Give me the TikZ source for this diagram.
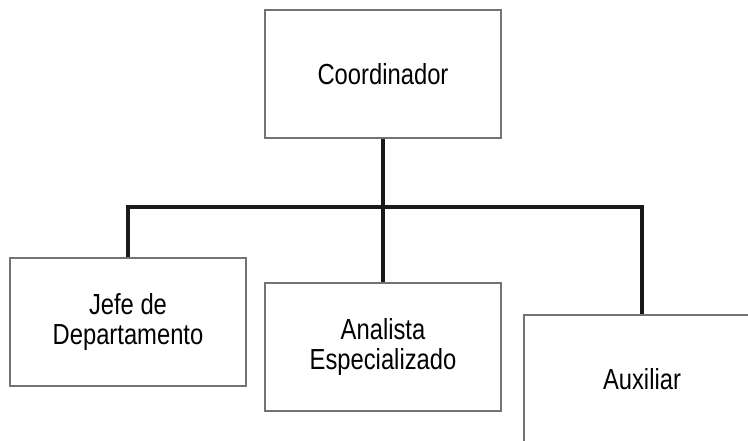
\documentclass[tikz,border=0pt]{standalone}
\usepackage{fontspec}
\setmainfont{Liberation Sans}[FakeStretch=0.82]
\usetikzlibrary{positioning}

\begin{document}
\begin{tikzpicture}[
      node distance = 3mm and 3mm,
         box/.style = {rectangle, draw=black!55, line width=0.6pt, fill=white,
                       minimum width=47.2mm, minimum height=25.6mm,
                       align=center, font=\fontsize{16.5}{17}\selectfont},
        link/.style = {draw=black!90, line width=2.1pt}
                        ]
\clip (0,0) rectangle (14.96,8.8);
\node (coord)   [box] at (7.66,7.32) {Coordinador};
\node (jefe)    [box] at (2.56,2.36) {Jefe de\\Departamento};
\node (analista)[box] at (7.66,1.86) {Analista\\Especializado};
\node (aux)     [box] at (12.84,1.22) {Auxiliar};
\coordinate (bar) at (0,4.66);
% lineas de mando
\draw[link] (coord.south) -- (analista.north);
\draw[link] (jefe.north) |- (bar -| aux.north) -- (aux.north);
\end{tikzpicture}
\end{document}
